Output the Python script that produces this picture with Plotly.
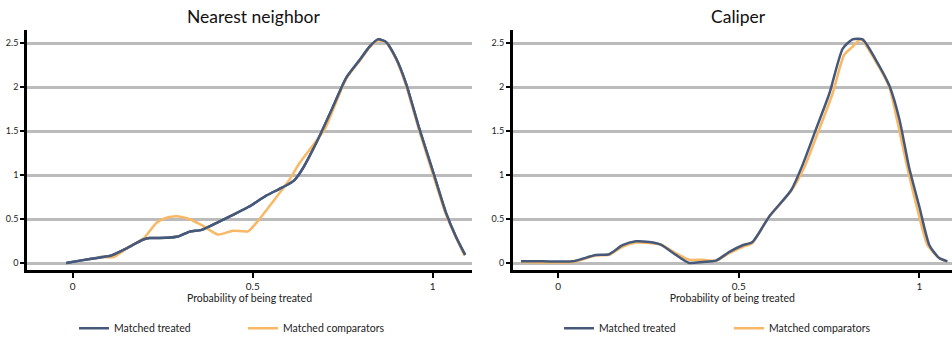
import plotly.graph_objects as go

# ---- Data ----
nn_treated_x = [-0.018, 0.02, 0.076, 0.108, 0.15, 0.196, 0.214, 0.26, 0.293, 0.325, 0.358, 0.40, 0.445, 0.49,
                0.538, 0.584, 0.616, 0.64, 0.686, 0.723, 0.76, 0.797, 0.824, 0.848, 0.87, 0.898, 0.926,
                0.963, 1.0, 1.037, 1.065, 1.09]
nn_treated_y = [0.004, 0.03, 0.066, 0.088, 0.17, 0.27, 0.286, 0.29, 0.304, 0.36, 0.38, 0.46, 0.55, 0.645,
                0.77, 0.865, 0.946, 1.085, 1.45, 1.78, 2.11, 2.31, 2.46, 2.545, 2.515, 2.33, 2.04,
                1.525, 1.05, 0.57, 0.297, 0.095]

nn_comp_x = [0.076, 0.113, 0.15, 0.196, 0.233, 0.26, 0.288, 0.325, 0.362, 0.404, 0.445, 0.487, 0.51, 0.556,
             0.603, 0.63, 0.667, 0.70, 0.723, 0.76, 0.797, 0.824, 0.848, 0.87, 0.898, 0.926, 0.963, 1.0,
             1.037, 1.065, 1.088]
nn_comp_y = [0.077, 0.07, 0.17, 0.28, 0.46, 0.517, 0.535, 0.50, 0.425, 0.326, 0.37, 0.363, 0.46, 0.70,
             0.957, 1.14, 1.34, 1.525, 1.745, 2.10, 2.30, 2.45, 2.535, 2.51, 2.32, 2.02, 1.50, 1.02,
             0.55, 0.29, 0.09]

cal_treated_x = [-0.103, -0.043, 0.04, 0.067, 0.104, 0.141, 0.178, 0.215, 0.252, 0.284, 0.326, 0.363, 0.40,
                 0.437, 0.474, 0.511, 0.538, 0.585, 0.645, 0.677, 0.714, 0.751, 0.788, 0.815, 0.843, 0.88,
                 0.917, 0.945, 0.972, 1.0, 1.028, 1.055, 1.078]
cal_treated_y = [0.022, 0.022, 0.022, 0.051, 0.095, 0.103, 0.205, 0.25, 0.242, 0.213, 0.095, 0.004, 0.015,
                 0.03, 0.13, 0.205, 0.242, 0.535, 0.83, 1.12, 1.525, 1.93, 2.44, 2.545, 2.545, 2.31,
                 2.02, 1.635, 1.085, 0.645, 0.205, 0.059, 0.022]

cal_comp_x = [-0.103, 0.04, 0.104, 0.141, 0.178, 0.215, 0.252, 0.284, 0.326, 0.363, 0.40, 0.437, 0.474,
              0.511, 0.538, 0.585, 0.645, 0.681, 0.723, 0.76, 0.792, 0.815, 0.838, 0.88, 0.917, 0.94,
              0.967, 0.995, 1.023, 1.055, 1.073]
cal_comp_y = [0.015, 0.015, 0.088, 0.095, 0.187, 0.235, 0.231, 0.213, 0.114, 0.04, 0.04, 0.03, 0.114,
              0.187, 0.231, 0.535, 0.82, 1.085, 1.525, 1.93, 2.37, 2.46, 2.545, 2.29, 2.0, 1.6,
              1.085, 0.61, 0.205, 0.059, 0.022]

y_ticks = [0, 0.5, 1, 1.5, 2, 2.5]
y_tick_labels = ["0", "0.5", "1", "1.5", "2", "2.5"]
x_ticks = [0, 0.5, 1]
x_tick_labels = ["0", "0.5", "1"]

titles = ["Nearest neighbor", "Caliper"]
x_title = "Probability of being treated"
series_names = ["Matched treated", "Matched comparators"]

BLUE = "#46597A"
ORANGE = "#F8B865"
FONT = "Lato"
SPL = dict(shape="spline", smoothing=0.6)

fig = go.Figure()

fig.add_trace(go.Scatter(x=nn_treated_x, y=nn_treated_y, mode="lines", name=series_names[0],
                         line=dict(color=BLUE, width=2.5, **SPL),
                         xaxis="x", yaxis="y", legend="legend"))
fig.add_trace(go.Scatter(x=nn_comp_x, y=nn_comp_y, mode="lines", name=series_names[1],
                         line=dict(color=ORANGE, width=2.5, **SPL),
                         xaxis="x", yaxis="y", legend="legend"))
fig.add_trace(go.Scatter(x=nn_treated_x, y=nn_treated_y, mode="lines", showlegend=False,
                         line=dict(color=BLUE, width=2.5, **SPL),
                         xaxis="x", yaxis="y", hoverinfo="skip"))

fig.add_trace(go.Scatter(x=cal_comp_x, y=cal_comp_y, mode="lines", showlegend=False,
                         line=dict(color=ORANGE, width=2.5, **SPL),
                         xaxis="x2", yaxis="y2"))
fig.add_trace(go.Scatter(x=cal_treated_x, y=cal_treated_y, mode="lines", name=series_names[0],
                         line=dict(color=BLUE, width=2.5, **SPL),
                         xaxis="x2", yaxis="y2", legend="legend2"))
fig.add_trace(go.Scatter(x=[None], y=[None], mode="lines", name=series_names[1],
                         line=dict(color=ORANGE, width=2.5),
                         xaxis="x2", yaxis="y2", legend="legend2"))

W, H = 952, 343
ybot = 1 - 279 / H
ytop = 1 - 30.5 / H

xaxis_common = dict(tickvals=x_ticks, ticktext=x_tick_labels, showgrid=False, zeroline=False,
                    showline=True, linecolor="black", linewidth=2.5, ticks="outside", ticklen=5,
                    tickwidth=2, tickcolor="black", tickfont=dict(size=10, color="#222"),
                    automargin=False,
                    title=dict(text=x_title, font=dict(size=10.5, color="#222"), standoff=2))
yaxis_common = dict(tickvals=y_ticks, ticktext=y_tick_labels, showgrid=True, gridcolor="#BBBBBB",
                    gridwidth=2.5, zeroline=False, showline=True, linecolor="black", linewidth=2.5,
                    ticks="outside", ticklen=4, tickwidth=2, tickcolor="black", automargin=False,
                    tickfont=dict(size=9, color="#222"), range=[-0.077, 2.657], domain=[ybot, ytop])

fig.update_layout(
    width=W, height=H, autosize=False,
    margin=dict(l=0, r=0, t=0, b=0),
    plot_bgcolor="white", paper_bgcolor="white",
    font=dict(family=FONT, color="#222"),
    xaxis=dict(**xaxis_common, domain=[27 / W, 472 / W], range=[-0.127, 1.109], anchor="y"),
    yaxis=dict(**yaxis_common, anchor="x"),
    xaxis2=dict(**xaxis_common, domain=[512.7 / W, 1.0], range=[-0.126, 1.0906], anchor="y2"),
    yaxis2=dict(**yaxis_common, anchor="x2"),
    legend=dict(orientation="h", x=74 / W, y=1 - 339 / H, xanchor="left", yanchor="middle",
                font=dict(size=10.5, color="#222"), entrywidth=124, entrywidthmode="pixels",
                bgcolor="rgba(0,0,0,0)"),
    legend2=dict(orientation="h", x=559 / W, y=1 - 339 / H, xanchor="left", yanchor="middle",
                 font=dict(size=10.5, color="#222"), entrywidth=125, entrywidthmode="pixels",
                 bgcolor="rgba(0,0,0,0)"),
    annotations=[
        dict(text=titles[0], x=253 / W, y=1 - 17 / H, xref="paper", yref="paper", showarrow=False,
             xanchor="center", yanchor="middle", font=dict(size=17.5, color="#111")),
        dict(text=titles[1], x=738 / W, y=1 - 17 / H, xref="paper", yref="paper", showarrow=False,
             xanchor="center", yanchor="middle", font=dict(size=17.5, color="#111")),
    ],
)

fig.write_html("out.html", config={"responsive": False, "displayModeBar": False},
               post_script="document.body.style.margin='0';document.body.style.overflow='hidden';")
